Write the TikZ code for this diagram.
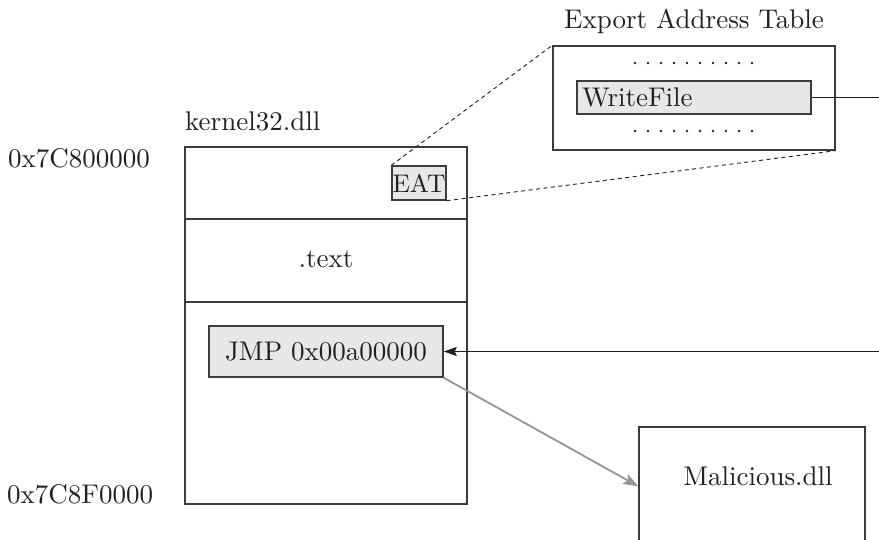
\documentclass[tikz,border=0pt]{standalone}
\usetikzlibrary{arrows.meta}
\definecolor{ink}{HTML}{231F20}
\definecolor{edgegray}{HTML}{3C3C3C}
\definecolor{boxfill}{HTML}{E6E7E8}
\definecolor{arrowgray}{HTML}{939598}
\font\diagrm="[lmroman10-regular]:mapping=tex-text" at 27pt
\font\diagrmsmall="[lmroman10-regular]:mapping=tex-text" at 25.5pt
\begin{document}
\begin{tikzpicture}[x=1pt,y=-1pt,
  font=\diagrm, text=ink,
  frame/.style={draw=edgegray, line width=1.4pt, inner sep=0pt},
  graybox/.style={frame, fill=boxfill},
  txt/.style={inner sep=0pt, anchor=base},
  conn/.style={draw=ink, line width=1.8pt},
  zoomline/.style={draw=ink, line width=0.9pt, dash pattern=on 4pt off 3.5pt}
]
\useasboundingbox (0,0) rectangle (879,539);
\clip (0,0) rectangle (879,539);

% kernel32 image
\node[frame, minimum width=282pt, minimum height=357pt] (kernel) at (326,325.5) {};
\draw[frame] (185,219) coordinate (d1a) -- (467,219) coordinate (d1b);
\draw[frame] (185,302) coordinate (d2a) -- (467,302) coordinate (d2b);
\node[txt, anchor=base west] (klabel) at (185,130) {kernel32.dll};
\node[txt, anchor=base west] (addrtop) at (8,167) {0x7C800000};
\node[txt, anchor=base west] (addrbot) at (7,503) {0x7C8F0000};
\node[txt] (textsec) at (326,267) {.text};

\node[graybox, minimum width=54pt, minimum height=34pt, font=\diagrmsmall] (eat) at (419,183) {EAT};
\node[graybox, minimum width=234pt, minimum height=51pt] (jmp) at (326,351.5) {JMP 0x00a00000};

% export address table
\node[txt] (eattitle) at (694,28) {Export Address Table};
\node[frame, minimum width=282pt, minimum height=104pt] (table) at (694,98) {};
\node[graybox, text width=224pt, align=left, inner xsep=5pt, minimum height=33pt] (writefile) at (694,97.5) {WriteFile};
\foreach \i in {0,...,9} {
  \fill[ink] (635+13*\i,63) circle (1.3pt);
  \fill[ink] (635+13*\i,131) circle (1.3pt);
}

% malicious dll
\node[frame, anchor=base, minimum width=226pt, text height=58pt, text depth=92pt] (malicious) at (752,485) {\hspace*{12pt}Malicious.dll};

% connectors
\coordinate (rightB) at (879,97.5);
\coordinate (rightA) at (879,351.5);
\draw[zoomline] (eat.north west) -- (table.north west);
\draw[zoomline] (eat.south east) -- (table.south east);
\draw[conn] (writefile.east) -- (rightB);
\draw[conn, -{Stealth[length=13pt,width=9pt,inset=2pt]}] (rightA) -- (jmp.east);
\draw[draw=arrowgray, line width=1.8pt, -{Stealth[length=15pt,width=11pt,inset=3pt]}] (jmp.south east) -- ([yshift=-60pt]malicious.north west);
\end{tikzpicture}
\end{document}
